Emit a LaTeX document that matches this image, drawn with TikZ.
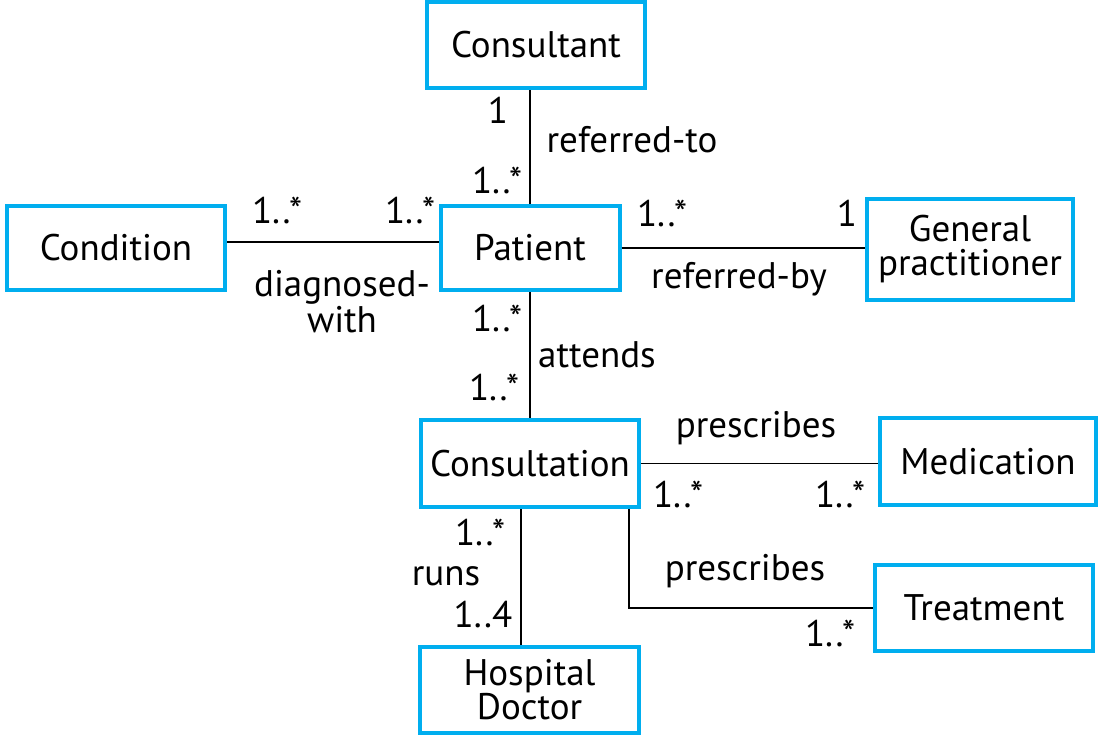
\documentclass[tikz,border=0pt]{standalone}
\usepackage{fontspec}
\setmainfont{PT Sans}
\definecolor{boxblue}{HTML}{00AEEF}
\tikzset{
  classbox/.style={draw=boxblue, line width=2pt, align=center, inner sep=0pt},
  assoc/.style={black, line width=0.9pt},
  lbl/.style={inner sep=0pt, align=center}
}
\begin{document}
\begin{tikzpicture}[x=0.5pt,y=-0.5pt,font=\fontsize{18.5}{17}\selectfont]
  \useasboundingbox (0,0) rectangle (1099,735);
  % classes
  \node[classbox, minimum width=109pt, minimum height=43pt] (consultant) at (536,45) {Consultant};
  \node[classbox, minimum width=109pt, minimum height=42pt] (condition) at (116,248) {Condition};
  \node[classbox, minimum width=89.5pt, minimum height=42pt] (patient) at (530,248) {Patient};
  \node[classbox, minimum width=103pt, minimum height=50.5pt] (gp) at (970,249.5) {General\\practitioner};
  \node[classbox, minimum width=109pt, minimum height=43.5pt] (consultation) at (530,463.5) {Consultation};
  \node[classbox, minimum width=108pt, minimum height=43.5pt] (medication) at (988,461.5) {Medication};
  \node[classbox, minimum width=109pt, minimum height=43pt] (treatment) at (984,608) {Treatment};
  \node[classbox, minimum width=109.5pt, minimum height=43pt] (doctor) at (529.5,690) {Hospital\\Doctor};
  % associations
  \draw[assoc] (patient.north) -- (patient.north |- consultant.south);
  \draw[assoc] ([yshift=3pt]condition.east) -- ([yshift=3pt]patient.west);
  \draw[assoc] (patient.east) -- (patient.east -| gp.west);
  \draw[assoc] (patient.south) -- (consultation.north);
  \draw[assoc] (consultation.east) -- (consultation.east -| medication.west);
  \draw[assoc] ([xshift=-6pt]consultation.south east) |- (treatment.west);
  \draw[assoc] ([xshift=-4.5pt]consultation.south) -- ([xshift=-4.5pt]consultation.south |- doctor.north);
  % multiplicities and roles
  \node[lbl] (m-cst) at (498,110) {1};
  \node[lbl] (m-pat1) at (497,180) {1..*};
  \node[lbl] (r-refto) at (632,140) {referred-to};
  \node[lbl] (m-cond) at (277,210) {1..*};
  \node[lbl] (m-pat2) at (410,210) {1..*};
  \node[lbl] (r-diag) at (342,302) {diagnosed-\\with};
  \node[lbl] (m-pat3) at (662,213) {1..*};
  \node[lbl] (m-gp) at (847,213) {1};
  \node[lbl] (r-refby) at (739,279) {referred-by};
  \node[lbl] (m-pat4) at (497,318) {1..*};
  \node[lbl] (r-att) at (597,355) {attends};
  \node[lbl] (m-con1) at (494,387) {1..*};
  \node[lbl] (r-presc1) at (756,428) {prescribes};
  \node[lbl] (m-con2) at (678,494) {1..*};
  \node[lbl] (m-med) at (840,494) {1..*};
  \node[lbl] (m-con3) at (480,532) {1..*};
  \node[lbl] (r-runs) at (446,576) {runs};
  \node[lbl] (m-doc) at (483,615) {1..4};
  \node[lbl] (r-presc2) at (745,571) {prescribes};
  \node[lbl] (m-trt) at (830,633) {1..*};
\end{tikzpicture}
\end{document}
